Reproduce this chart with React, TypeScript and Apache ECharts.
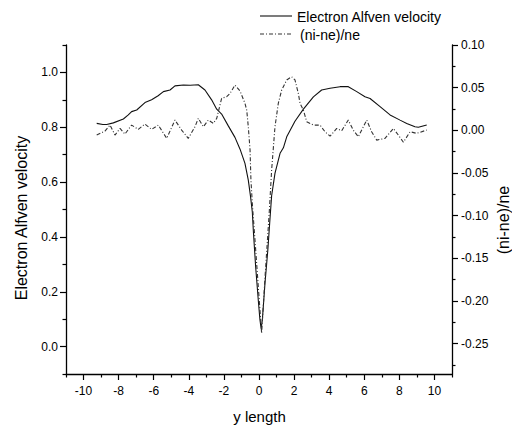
import React, { useEffect, useRef } from "react";
import * as echarts from "echarts";

// Electron Alfven velocity (left axis)
const alfvenX = [
  -9.25, -8.9, -8.68, -8.3, -7.73, -7.45, -7.26, -6.97, -6.5, -6.12, -5.75, -5.45, -5.07, -4.79,
  -4.31, -3.93, -3.46, -3.08, -2.7, -2.41, -2.13, -1.75, -1.37, -1.08, -0.8, -0.61, -0.48, -0.38,
  -0.32, -0.19, -0.04, 0.05, 0.12, 0.19, 0.34, 0.5, 0.63, 0.72, 0.91, 1.2, 1.39, 1.58, 2.05, 2.53,
  3.1, 3.57, 4.05, 4.62, 5.09, 5.57, 6.04, 6.33, 6.9, 7.47, 8.04, 8.42, 8.89, 9.08, 9.56,
];
const alfvenY = [
  0.814, 0.81, 0.81, 0.816, 0.83, 0.845, 0.857, 0.863, 0.89, 0.9, 0.915, 0.93, 0.936, 0.951,
  0.954, 0.953, 0.955, 0.936, 0.9, 0.866, 0.848, 0.805, 0.763, 0.72, 0.668, 0.607, 0.546, 0.49,
  0.42, 0.29, 0.169, 0.1, 0.066, 0.096, 0.23, 0.35, 0.47, 0.55, 0.632, 0.705, 0.725, 0.765, 0.822,
  0.866, 0.911, 0.936, 0.942, 0.948, 0.948, 0.93, 0.911, 0.905, 0.875, 0.845, 0.826, 0.814, 0.802,
  0.8, 0.808,
];

// (ni-ne)/ne (right axis)
const densX = [
  -9.25, -8.78, -8.49, -8.21, -7.92, -7.64, -7.26, -6.88, -6.5, -6.12, -5.74, -5.26, -4.79, -4.41,
  -4.03, -3.65, -3.46, -3.17, -2.89, -2.6, -2.41, -2.13, -1.84, -1.65, -1.37, -1.08, -0.8, -0.7,
  -0.61, -0.51, -0.46, -0.38, -0.2, 0.0, 0.15, 0.35, 0.59, 0.72, 0.91, 1.1, 1.29, 1.58, 1.86, 2.05,
  2.24, 2.34, 2.53, 2.72, 3.1, 3.48, 3.76, 4.05, 4.43, 4.71, 5.09, 5.37, 5.66, 6.14, 6.42, 6.71,
  7.18, 7.66, 7.94, 8.23, 8.61, 8.99, 9.56,
];
const densY = [
  -0.0056, -0.0009, 0.0061, -0.0056, 0.0022, -0.0044, 0.0061, 0.0011, 0.0073, 0.0011, 0.0061,
  -0.0095, 0.012, 0.0003, -0.0095, 0.0041, 0.014, 0.0041, 0.012, 0.0081, 0.014, 0.0375, 0.0394,
  0.0433, 0.053, 0.046, 0.0316, 0.0237, 0.004, -0.023, -0.058, -0.086, -0.137, -0.195, -0.238,
  -0.17, -0.094, -0.0467, 0.004, 0.0316, 0.047, 0.059, 0.0628, 0.059, 0.0433, 0.0316, 0.0237, 0.01,
  0.0061, 0.0061, -0.0017, -0.0068, 0.0022, -0.0006, 0.012, 0.0003, -0.0076, 0.012, -0.0017,
  -0.0115, -0.0095, 0.0022, -0.0056, -0.014, -0.0017, -0.0036, 0.0003,
];

const xMajorTicks = [-10, -8, -6, -4, -2, 0, 2, 4, 6, 8, 10];
const xMinorTicks = [-11, -9, -7, -5, -3, -1, 1, 3, 5, 7, 9, 11];
const leftMajorTicks = [0, 0.2, 0.4, 0.6, 0.8, 1.0];
const leftMinorTicks = [-0.1, 0.1, 0.3, 0.5, 0.7, 0.9, 1.1];
const rightMajorTicks = [0.1, 0.05, 0, -0.05, -0.1, -0.15, -0.2, -0.25];
const rightMinorTicks = [0.075, 0.025, -0.025, -0.075, -0.125, -0.175, -0.225, -0.275];

const legendNames = ["Electron Alfven velocity", "(ni-ne)/ne"];

const FONT = "'Liberation Sans', Arial, Helvetica, sans-serif";
const DASHDOT = [4, 2, 1, 2];

export default function App() {
  const ref = useRef<HTMLDivElement>(null);
  useEffect(() => {
    if (!ref.current) return;
    const chart = echarts.init(ref.current, undefined, { renderer: "svg" });
    const axisLine = { show: true, onZero: false, lineStyle: { color: "#000", width: 1.3 } };
    const hiddenLine = { show: false, onZero: false };
    const noSplit = { show: false };
    const tick = (len: number, vals: number[]) => ({
      show: true,
      inside: false,
      length: len,
      customValues: vals,
      lineStyle: { color: "#000", width: 1.2 },
    });
    const label = (vals: number[], margin: number, fmt: (v: number) => string) => ({
      customValues: vals,
      margin,
      fontSize: 12,
      color: "#000",
      fontFamily: FONT,
      formatter: fmt,
    });
    const option: any = {
      animation: false,
      backgroundColor: "#fff",
      textStyle: { fontFamily: FONT, color: "#000" },
      grid: { left: 66, right: 60, top: 45, bottom: 54, containLabel: false },
      xAxis: [
        {
          type: "value",
          min: -11,
          max: 11,
          position: "bottom",
          axisLine,
          splitLine: noSplit,
          axisTick: tick(6, xMajorTicks),
          axisLabel: label(xMajorTicks, 11, (v) => String(Math.round(v))),
        },
        {
          type: "value",
          min: -11,
          max: 11,
          position: "bottom",
          offset: 0,
          axisLine: hiddenLine,
          splitLine: noSplit,
          axisTick: tick(3.5, xMinorTicks),
          axisLabel: { show: false },
        },
      ],
      yAxis: [
        {
          type: "value",
          min: -0.1,
          max: 1.1,
          position: "left",
          axisLine,
          splitLine: noSplit,
          axisTick: tick(6, leftMajorTicks),
          axisLabel: label(leftMajorTicks, 8, (v) => v.toFixed(1)),
        },
        {
          type: "value",
          min: -0.1,
          max: 1.1,
          position: "left",
          offset: 0,
          axisLine: hiddenLine,
          splitLine: noSplit,
          axisTick: tick(3.5, leftMinorTicks),
          axisLabel: { show: false },
        },
        {
          type: "value",
          min: -0.2857,
          max: 0.1,
          position: "right",
          offset: 0,
          axisLine,
          splitLine: noSplit,
          axisTick: tick(6, rightMajorTicks),
          axisLabel: label(rightMajorTicks, 9, (v) => v.toFixed(2)),
        },
        {
          type: "value",
          min: -0.2857,
          max: 0.1,
          position: "right",
          offset: 0,
          axisLine: hiddenLine,
          splitLine: noSplit,
          axisTick: tick(3.5, rightMinorTicks),
          axisLabel: { show: false },
        },
      ],
      graphic: [
        {
          type: "line",
          shape: { x1: 260, y1: 16, x2: 292, y2: 16 },
          style: { stroke: "#111", lineWidth: 1.1 },
        },
        {
          type: "text",
          x: 297,
          y: 16.5,
          style: {
            text: legendNames[0],
            fontSize: 14,
            fontFamily: FONT,
            fill: "#000",
            textAlign: "left",
            textVerticalAlign: "middle",
          },
        },
        {
          type: "line",
          shape: { x1: 260, y1: 34, x2: 292, y2: 34 },
          style: { stroke: "#333", lineWidth: 1.1, lineDash: DASHDOT },
        },
        {
          type: "text",
          x: 300,
          y: 35,
          style: {
            text: legendNames[1],
            fontSize: 14,
            fontFamily: FONT,
            fill: "#000",
            textAlign: "left",
            textVerticalAlign: "middle",
          },
        },
        {
          type: "text",
          x: 21.5,
          y: 218,
          rotation: Math.PI / 2,
          style: {
            text: "Electron Alfven velocity",
            fontSize: 16,
            fontFamily: FONT,
            fill: "#000",
            textAlign: "center",
            textVerticalAlign: "middle",
          },
        },
        {
          type: "text",
          x: 503.5,
          y: 220,
          rotation: Math.PI / 2,
          style: {
            text: "(ni-ne)/ne",
            fontSize: 16,
            fontFamily: FONT,
            fill: "#000",
            textAlign: "center",
            textVerticalAlign: "middle",
          },
        },
        {
          type: "text",
          x: 259.5,
          y: 416,
          style: {
            text: "y length",
            fontSize: 15,
            fontFamily: FONT,
            fill: "#000",
            textAlign: "center",
            textVerticalAlign: "middle",
          },
        },
      ],
      series: [
        {
          name: legendNames[0],
          type: "line",
          xAxisIndex: 0,
          yAxisIndex: 0,
          symbol: "none",
          data: alfvenX.map((x, i) => [x, alfvenY[i]]),
          lineStyle: { color: "#111", width: 1.1 },
          itemStyle: { color: "#111" },
        },
        {
          name: legendNames[1],
          type: "line",
          xAxisIndex: 0,
          yAxisIndex: 2,
          symbol: "none",
          data: densX.map((x, i) => [x, densY[i]]),
          lineStyle: { color: "#333", width: 1.1, type: DASHDOT },
          itemStyle: { color: "#333" },
        },
      ],
    };
    chart.setOption(option);
    return () => chart.dispose();
  }, []);
  return (
    <div
      ref={ref}
      style={{ position: "absolute", left: 0, top: 0, width: 512, height: 428, background: "#fff" }}
    />
  );
}
